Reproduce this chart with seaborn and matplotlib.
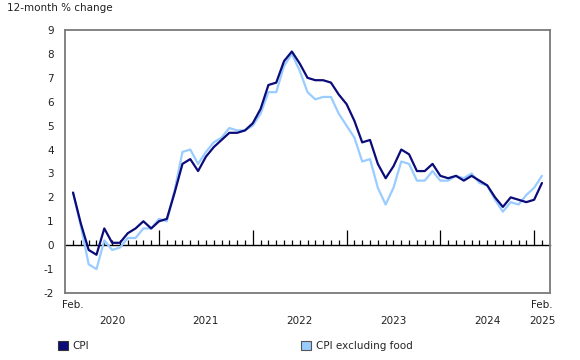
import numpy as np
import pandas as pd
import matplotlib
matplotlib.use("Agg")
import matplotlib.pyplot as plt
import matplotlib.transforms as mtransforms
from matplotlib.patches import Patch
import seaborn as sns

# ---- data (Feb 2020 .. Feb 2025, monthly) ----
months = pd.period_range("2020-02", "2025-02", freq="M").strftime("%Y-%m").tolist()
cpi = [2.2, 0.9, -0.2, -0.4, 0.7, 0.1, 0.1, 0.5, 0.7, 1.0, 0.7,
       1.0, 1.1, 2.2, 3.4, 3.6, 3.1, 3.7, 4.1, 4.4, 4.7, 4.7, 4.8,
       5.1, 5.7, 6.7, 6.8, 7.7, 8.1, 7.6, 7.0, 6.9, 6.9, 6.8, 6.3,
       5.9, 5.2, 4.3, 4.4, 3.4, 2.8, 3.3, 4.0, 3.8, 3.1, 3.1, 3.4,
       2.9, 2.8, 2.9, 2.7, 2.9, 2.7, 2.5, 2.0, 1.6, 2.0, 1.9, 1.8,
       1.9, 2.6]
cpi_ex_food = [2.2, 0.8, -0.8, -1.0, 0.2, -0.2, -0.1, 0.3, 0.3, 0.7, 0.7,
               1.1, 1.0, 2.3, 3.9, 4.0, 3.4, 3.9, 4.3, 4.5, 4.9, 4.8, 4.8,
               5.0, 5.5, 6.4, 6.4, 7.5, 8.0, 7.3, 6.4, 6.1, 6.2, 6.2, 5.5,
               5.0, 4.5, 3.5, 3.6, 2.4, 1.7, 2.4, 3.5, 3.4, 2.7, 2.7, 3.1,
               2.7, 2.7, 2.9, 2.8, 3.0, 2.6, 2.5, 1.9, 1.4, 1.8, 1.7, 2.1,
               2.4, 2.9]
series_names = ["CPI", "CPI excluding food"]
colors = ["#0b0b7a", "#99ccff"]
year_labels = ["2020", "2021", "2022", "2023", "2024", "2025"]
y_ticks = list(range(-2, 10))

# ---- build frame ----
idx = np.arange(len(months))
df = pd.concat([
    pd.DataFrame({"x": idx, "month": months, "value": cpi, "series": series_names[0]}),
    pd.DataFrame({"x": idx, "month": months, "value": cpi_ex_food, "series": series_names[1]}),
])

sns.set_style("white")
plt.rcParams["font.family"] = ["DejaVu Sans"]
plt.rcParams["font.size"] = 7.5

fig = plt.figure(figsize=(5.8, 3.6), dpi=100)
ax = fig.add_axes([65/580, 1-293/360, (550-65)/580, (293-30)/360])

# draw light series first, CPI on top
sns.lineplot(data=df, x="x", y="value", hue="series",
             hue_order=series_names[::-1], palette=colors[::-1],
             linewidth=1.6, ax=ax, legend=False)

ax.set_xlim(-1.03, 61.03)
ax.set_ylim(-2, 9)
ax.set_xlabel("")
ax.set_ylabel("")
for s in ax.spines.values():
    s.set_color("#7a7a7a")
    s.set_linewidth(1.3)
ax.set_yticks(y_ticks)
ax.set_yticklabels([str(v) for v in y_ticks], color="#222222")
ax.tick_params(axis="y", direction="in", length=4, width=1, color="#555555", pad=8)
ax.set_xticks([])

# zero line with month / year ticks
sec = ax.secondary_xaxis(2/11)
jan_idx = [i for i, m in enumerate(months) if m.endswith("-01")]
sec.set_xticks(jan_idx)
sec.set_xticks(idx, minor=True)
sec.set_xticklabels([])
sec.tick_params(which="major", direction="in", length=11, width=0.9, color="black")
sec.tick_params(which="minor", direction="in", length=3.8, width=0.9, color="black")
sec.spines["bottom"].set_color("black")
sec.spines["bottom"].set_linewidth(1.0)
for k in ("top", "left", "right"):
    sec.spines[k].set_visible(False)

# x labels
trans = mtransforms.blended_transform_factory(ax.transData, fig.transFigure)
years = [m[:4] for m in months]
for yl in year_labels:
    pos = [i for i, y in enumerate(years) if y == yl]
    if yl == year_labels[-1]:
        xc = pos[-1]
    else:
        xc = (pos[0] + pos[-1]) / 2 + (0.5 if yl != year_labels[0] else 0)
    ax.text(xc, 1-321/360, yl, transform=trans, ha="center", va="center", color="#222222")
ax.text(0, 1-305/360, "Feb.", transform=trans, ha="center", va="center", color="#222222")
ax.text(len(months)-1, 1-305/360, "Feb.", transform=trans, ha="center", va="center", color="#222222")

fig.text(7/580, 1-8/360, "12-month % change", ha="left", va="center", color="#222222")

# legend
h1 = Patch(facecolor=colors[0], edgecolor="#333333", linewidth=0.8)
h2 = Patch(facecolor=colors[1], edgecolor="#555555", linewidth=0.8)
for h, name, xpos in [(h1, series_names[0], 58/580), (h2, series_names[1], 301/580)]:
    fig.legend(handles=[h], labels=[name], loc="center left",
               bbox_to_anchor=(xpos, 1-346/360), frameon=False,
               handlelength=1.0, handleheight=1.0, handletextpad=0.4,
               borderpad=0, borderaxespad=0, fontsize=7.5)

fig.savefig("out.png", dpi=100)
